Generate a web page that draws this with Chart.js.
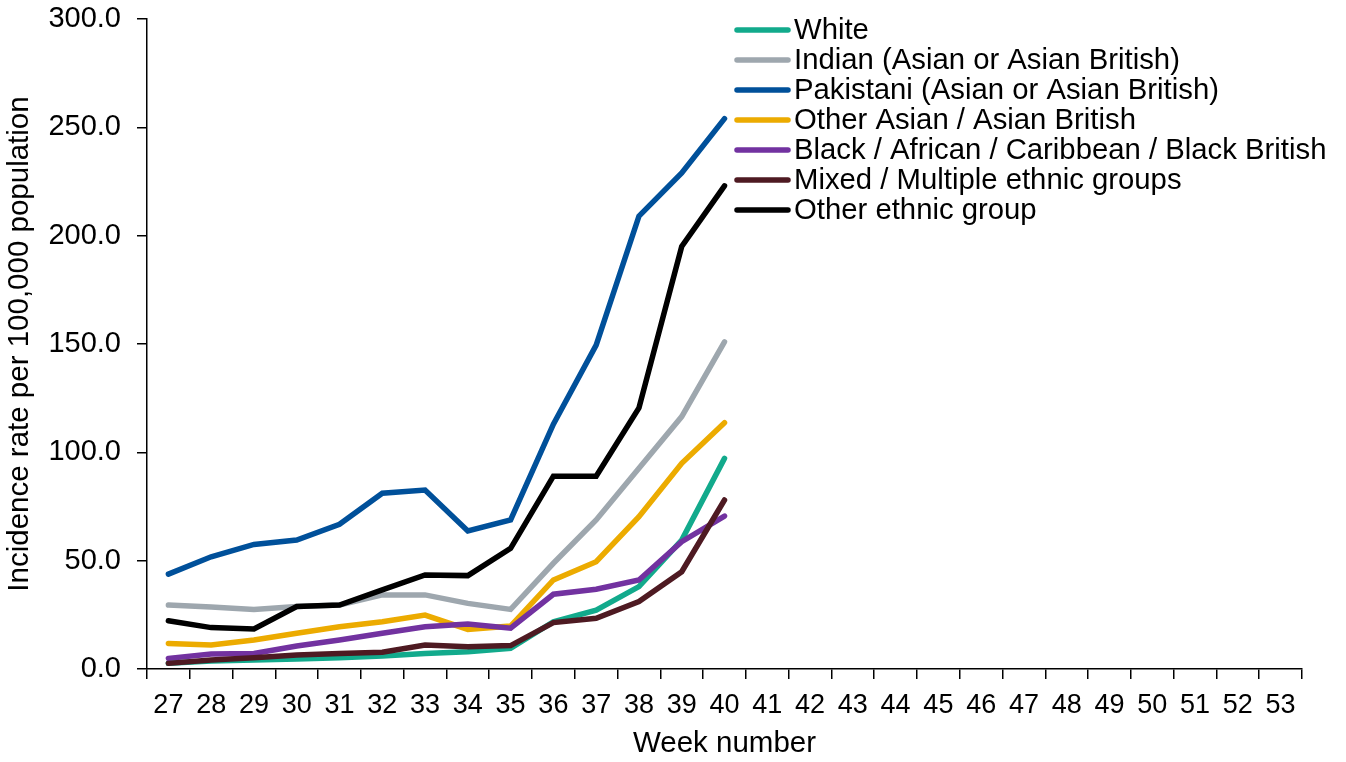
<!DOCTYPE html>
<html>
<head>
<meta charset="utf-8">
<script src="https://cdn.jsdelivr.net/npm/chart.js@4"></script>
<style>
  html, body { margin: 0; padding: 0; background: #fff; }
  #wrap { width: 1346px; height: 762px; }
</style>
</head>
<body>
<div id="wrap"><canvas id="incidence-chart"></canvas></div>
<script>
const weeks = ["27","28","29","30","31","32","33","34","35","36","37","38","39","40",
  "41","42","43","44","45","46","47","48","49","50","51","52","53"];

const seriesNames = [
  "White",
  "Indian (Asian or Asian British)",
  "Pakistani (Asian or Asian British)",
  "Other Asian / Asian British",
  "Black / African / Caribbean / Black British",
  "Mixed / Multiple ethnic groups",
  "Other ethnic group"
];
const seriesColors = ["#12AA8C", "#9EA7AE", "#00509A", "#ECAB00", "#7232A0", "#4E1A22", "#000000"];

const white      = [2.6, 3.7, 4.2, 4.6, 5.2, 6.0, 7.2, 8.0, 9.5, 21.8, 27.2, 38.0, 59.5, 97.2];
const indian     = [29.5, 28.6, 27.5, 28.8, 29.5, 34.2, 34.2, 30.3, 27.5, 48.8, 68.8, 92.6, 116.5, 151.0];
const pakistani  = [43.8, 51.8, 57.5, 59.5, 66.8, 81.1, 82.6, 63.7, 68.8, 113.0, 149.5, 209.0, 229.0, 254.0];
const otherAsian = [11.8, 11.1, 13.4, 16.5, 19.5, 21.8, 24.9, 18.3, 19.8, 41.1, 49.5, 70.3, 94.9, 113.7];
const black      = [4.9, 6.9, 7.2, 10.6, 13.4, 16.5, 19.5, 20.8, 18.8, 34.5, 36.8, 41.1, 58.8, 70.6];
const mixed      = [2.6, 4.2, 5.2, 6.5, 7.2, 7.7, 11.1, 10.3, 10.8, 21.4, 23.4, 31.1, 44.9, 78.0];
const otherGroup = [22.3, 19.1, 18.5, 28.8, 29.5, 36.5, 43.4, 43.1, 55.7, 89.0, 89.0, 120.5, 195.0, 223.0];

const yTicks = [0, 50, 100, 150, 200, 250, 300];

const allSeries = [white, indian, pakistani, otherAsian, black, mixed, otherGroup];

const FONT = "'Liberation Sans', Arial, sans-serif";

// legend drawn by hand, top right inside the plot
const sideLegend = {
  id: "sideLegend",
  afterDraw(chart) {
    const c = chart.ctx;
    c.save();
    c.font = "29.3px " + FONT;
    c.textBaseline = "middle";
    c.textAlign = "left";
    chart.data.datasets.forEach((ds, i) => {
      const y = 30 + i * 30;
      c.strokeStyle = ds.borderColor;
      c.lineWidth = 5.5;
      c.lineCap = "round";
      c.beginPath();
      c.moveTo(737, y);
      c.lineTo(788, y);
      c.stroke();
      c.fillStyle = "#000";
      c.fillText(ds.label, 794, y + 1);
    });
    c.restore();
  }
};

const ctx = document.getElementById("incidence-chart");

new Chart(ctx, {
  type: "line",
  data: {
    labels: weeks,
    datasets: allSeries.map((vals, i) => ({
      label: seriesNames[i],
      data: vals,
      borderColor: seriesColors[i],
      backgroundColor: seriesColors[i],
      borderWidth: 5.5,
      borderCapStyle: "round",
      borderJoinStyle: "miter",
      pointRadius: 0,
      tension: 0,
      fill: false,
      order: allSeries.length - i,
    })),
  },
  plugins: [sideLegend],
  options: {
    responsive: true,
    maintainAspectRatio: false,
    animation: false,
    layout: { padding: { top: 19, right: 44, left: 0, bottom: 0 } },
    plugins: {
      legend: { display: false },
      tooltip: { enabled: false },
    },
    scales: {
      x: {
        offset: true,
        grid: {
          offset: true,
          drawOnChartArea: false,
          drawTicks: true,
          tickLength: 10,
          color: "#000",
          lineWidth: 1.5,
        },
        border: { display: true, color: "#000", width: 1.5 },
        ticks: {
          color: "#000",
          font: { family: FONT, size: 27 },
          padding: 10,
          maxRotation: 0,
          autoSkip: false,
        },
        title: {
          display: true,
          text: "Week number",
          color: "#000",
          font: { family: FONT, size: 29.5 },
          padding: { top: 0, bottom: 0 },
        },
        afterFit(scale) {
          scale.height = 93;
          scale.paddingLeft = 0;
          scale.paddingRight = 0;
        },
      },
      y: {
        min: 0,
        max: 300,
        afterBuildTicks(scale) { scale.ticks = yTicks.map(v => ({ value: v })); },
        grid: {
          drawOnChartArea: false,
          drawTicks: true,
          tickLength: 10,
          color: "#000",
          lineWidth: 1.5,
        },
        border: { display: true, color: "#000", width: 1.5 },
        ticks: {
          color: "#000",
          font: { family: FONT, size: 29 },
          padding: 16,
          callback: v => Number(v).toFixed(1),
        },
        title: {
          display: true,
          text: "Incidence rate per 100,000 population",
          color: "#000",
          font: { family: FONT, size: 29.5 },
          padding: { top: 2, bottom: 0 },
        },
        afterFit(scale) {
          scale.width = 147;
          scale.paddingTop = 0;
          scale.paddingBottom = 0;
        },
      },
    },
  },
});
</script>
</body>
</html>
